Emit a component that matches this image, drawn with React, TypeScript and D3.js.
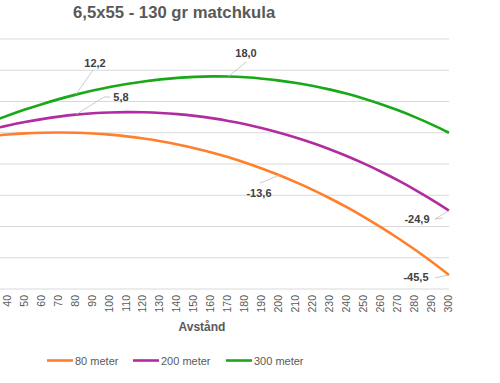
import React from "react";
import * as d3 from "d3";

const distances = [0,10,20,30,40,50,60,70,80,90,100,110,120,130,140,150,160,170,180,190,200,210,220,230,240,250,260,270,280,290,300];
const zero80 = [-3.35,-2.46,-1.7,-1.07,-0.57,-0.21,0.0,0.08,0.0,-0.23,-0.61,-1.15,-1.85,-2.71,-3.74,-4.94,-6.31,-7.86,-9.59,-11.5,-13.6,-15.89,-18.36,-21.04,-23.91,-26.99,-30.27,-33.75,-37.45,-41.36,-45.5];
const zero200 = [-3.35,-1.74,-0.25,1.11,2.33,3.42,4.35,5.16,5.8,6.22,6.49,6.6,6.55,6.34,5.96,5.41,4.69,3.79,2.71,1.45,0.0,-1.59,-3.36,-5.34,-7.51,-9.89,-12.47,-15.25,-18.25,-21.46,-24.9];
const zero300 = [-3.35,-0.94,1.35,3.51,5.53,7.42,9.15,10.76,12.2,13.49,14.63,15.6,16.42,17.08,17.57,17.88,18.03,18.0,17.74,17.3,16.68,15.91,14.96,13.8,12.45,10.9,9.14,7.18,5.0,2.61,0.0];
const yTicks = [30,20,10,0,-10,-20,-30,-40,-50];
const seriesNames = ["80 meter","200 meter","300 meter"];
const seriesColors = ["#FF7F2A","#B02CA0","#18A818"];
const title = "6,5x55 - 130 gr matchkula";
const xTitle = "Avstånd";

const labels = [
  { s: 2, d: 80, lx: 95, ly: 67, bend: [93, 70] },
  { s: 2, d: 170, lx: 246, ly: 57, bend: [246, 62] },
  { s: 1, d: 80, lx: 121, ly: 101, bend: [104, 97], bend2: [110, 97] },
  { s: 0, d: 200, lx: 259, ly: 197, bend: [260, 183] },
  { s: 1, d: 300, lx: 417, ly: 223, bend: [435, 219], bend2: [443, 218] },
  { s: 0, d: 300, lx: 416, ly: 281, bend: [435, 278] },
];

export default function App() {
  const W = 500, H = 383;
  const x = d3.scaleLinear().domain([40, 300]).range([8, 449]);
  const y = d3.scaleLinear().domain([-50, 30]).range([289, 39]);
  const all = [zero80, zero200, zero300];
  const line = d3.line<number>()
    .x((_, i) => x(distances[i]))
    .y((v) => y(v))
    .curve(d3.curveCatmullRom.alpha(0.5));
  const fmt = (v: number) => v.toFixed(1).replace(".", ",");
  const font = "'Liberation Sans', Arial, sans-serif";
  const legendX = [47, 133, 226];
  const visibleTicks = distances.filter((d) => x(d) >= 0);
  return (
    <svg width={W} height={H} style={{ position: "absolute", left: 0, top: 0, background: "#fff" }} fontFamily={font}>
      <rect width={W} height={H} fill="#fff" />
      <text x={73} y={17.5} fontSize={16.7} fontWeight="bold" fill="#595959">{title}</text>
      {yTicks.map((t) => (
        <line key={t} x1={0} x2={449} y1={y(t)} y2={y(t)} stroke="#d9d9d9" strokeWidth={1} />
      ))}
      {visibleTicks.map((d) => (
        <text key={d} transform={`translate(${x(d)},295) rotate(-90)`} textAnchor="end" dominantBaseline="middle" fontSize={10.5} fill="#595959">{d}</text>
      ))}
      <text x={202} y={331} textAnchor="middle" fontSize={12} fontWeight="bold" fill="#595959">{xTitle}</text>
      {all.map((vals, i) => (
        <path key={i} d={line(vals) || ""} fill="none" stroke={seriesColors[i]} strokeWidth={2.6} />
      ))}
      {labels.map((l, i) => {
        const idx = distances.indexOf(l.d);
        const px = x(l.d), py = y(all[l.s][idx]);
        const pts = [[px, py], l.bend, ...(l.bend2 ? [l.bend2] : [])];
        return (
          <g key={i}>
            <polyline points={pts.map((p) => p.join(",")).join(" ")} fill="none" stroke="#bfbfbf" strokeWidth={0.8} />
            <text x={l.lx} y={l.ly} textAnchor="middle" fontSize={11} fontWeight="bold" fill="#404040">{fmt(all[l.s][idx])}</text>
          </g>
        );
      })}
      {seriesNames.map((n, i) => (
        <g key={n}>
          <line x1={legendX[i]} x2={legendX[i] + 26} y1={360.5} y2={360.5} stroke={seriesColors[i]} strokeWidth={2.6} />
          <text x={legendX[i] + 28} y={364.5} fontSize={11} fill="#595959">{n}</text>
        </g>
      ))}
    </svg>
  );
}
